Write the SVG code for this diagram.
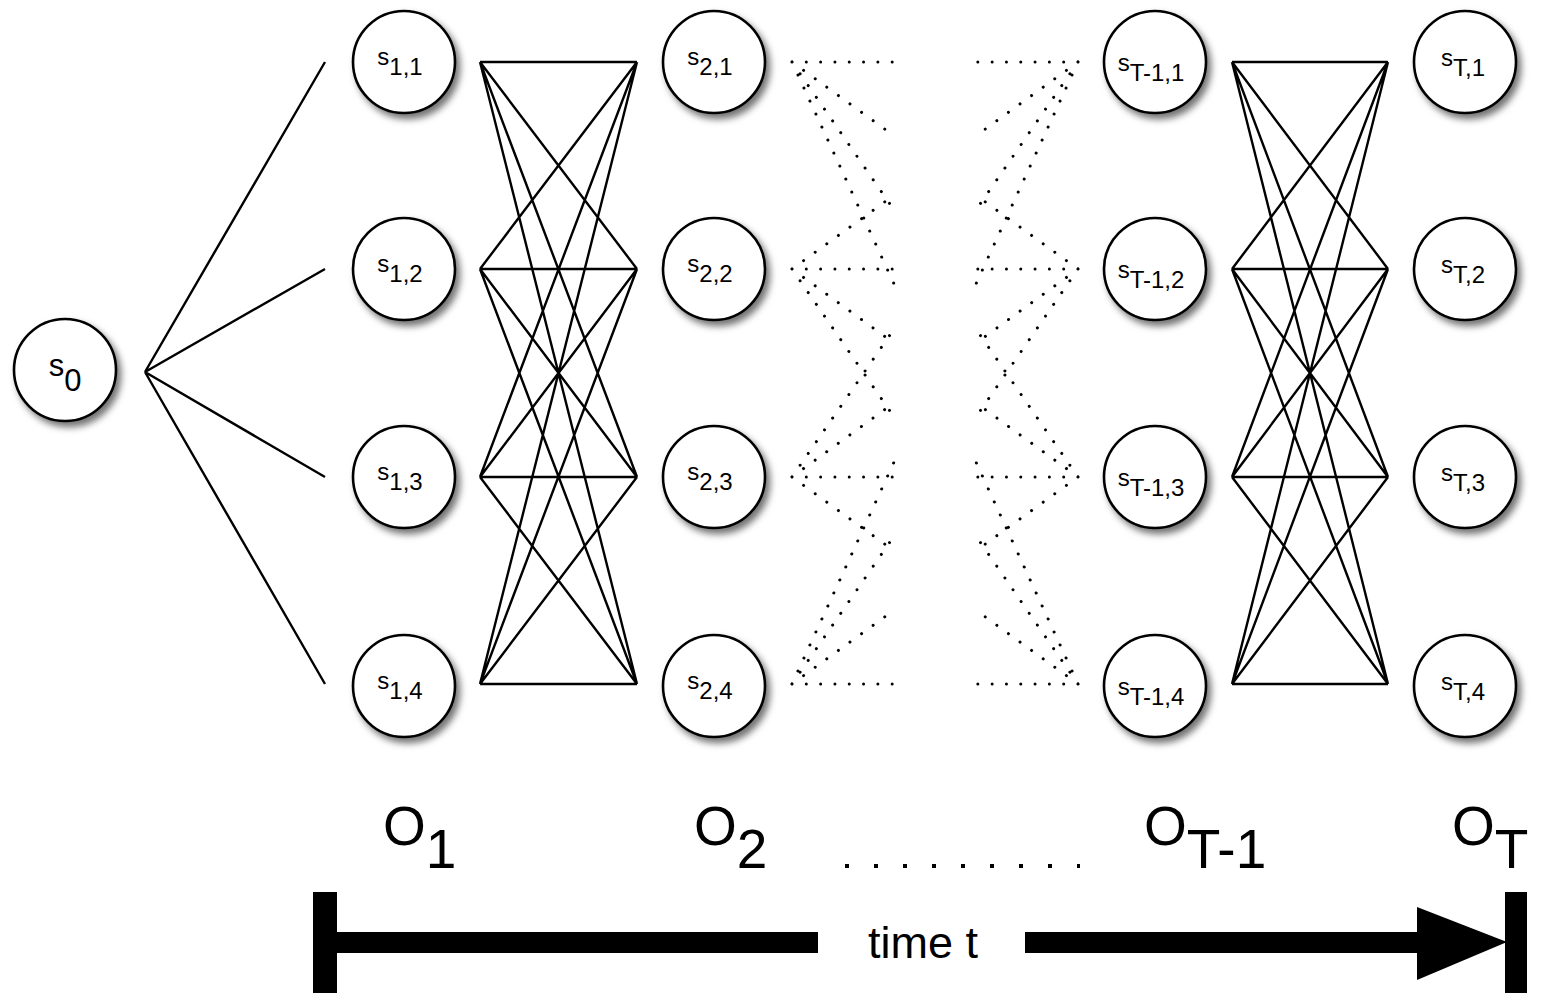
<svg xmlns="http://www.w3.org/2000/svg" width="1545" height="993" viewBox="0 0 1545 993">
  <defs>
    <filter id="shadow" x="-30%" y="-30%" width="170%" height="170%">
      <feDropShadow dx="4" dy="5" stdDeviation="3.5" flood-color="#000" flood-opacity="0.55"/>
    </filter>
    <style>
      .node circle { fill: #fff; stroke: #000; stroke-width: 2.6; filter: url(#shadow); }
      .lbl { font-family: "Liberation Sans", Arial, sans-serif; font-size: 24px; fill: #000; text-anchor: middle; }
      .lbl0 { font-family: "Liberation Sans", Arial, sans-serif; font-size: 31px; fill: #000; text-anchor: middle; }
      .solid { fill: none; stroke: #000; stroke-width: 2.4; }
      .dots { fill: none; stroke: #000; stroke-width: 3; stroke-linecap: round; stroke-dasharray: 0.01 14.3; }
      .obs { font-family: "Liberation Sans", Arial, sans-serif; font-size: 55px; fill: #000; }
      .axis { fill: #000; }
    </style>
  </defs>
  <rect width="1545" height="993" fill="#fff"/>

  <!-- transitions -->
  <g id="connectors">
    <!-- from the start state -->
    <path class="solid" d="M145,372 L325,62 M145,372 L325,269 M145,372 L325,477 M145,372 L325,684"/>
    <!-- step 1 to step 2: every state to every state -->
    <path class="solid" d="
      M480,62 L637,62 M480,62 L637,269 M480,62 L637,477 M480,62 L637,684
      M480,269 L637,62 M480,269 L637,269 M480,269 L637,477 M480,269 L637,684
      M480,477 L637,62 M480,477 L637,269 M480,477 L637,477 M480,477 L637,684
      M480,684 L637,62 M480,684 L637,269 M480,684 L637,477 M480,684 L637,684"/>
    <!-- step T-1 to step T -->
    <path class="solid" d="
      M1232,62 L1388,62 M1232,62 L1388,269 M1232,62 L1388,477 M1232,62 L1388,684
      M1232,269 L1388,62 M1232,269 L1388,269 M1232,269 L1388,477 M1232,269 L1388,684
      M1232,477 L1388,62 M1232,477 L1388,269 M1232,477 L1388,477 M1232,477 L1388,684
      M1232,684 L1388,62 M1232,684 L1388,269 M1232,684 L1388,477 M1232,684 L1388,684"/>
    <!-- elided steps: dotted stubs leaving step 2 -->
    <path class="dots" d="
      M792,62 L895,62 M792,62 L895,136.5 M792,62 L895,211.4 M792,62 L895,286
      M792,269 L895,194.5 M792,269 L895,269 M792,269 L895,343.9 M792,269 L895,418.4
      M792,477 L895,327.6 M792,477 L895,402.1 M792,477 L895,477 M792,477 L895,551.5
      M792,684 L895,460 M792,684 L895,534.6 M792,684 L895,609.5 M792,684 L895,684"/>
    <!-- elided steps: dotted stubs arriving at step T-1 -->
    <path class="dots" d="
      M1078,62 L975,62 M1078,62 L975,136.5 M1078,62 L975,211.4 M1078,62 L975,286
      M1078,269 L975,194.5 M1078,269 L975,269 M1078,269 L975,343.9 M1078,269 L975,418.4
      M1078,477 L975,327.6 M1078,477 L975,402.1 M1078,477 L975,477 M1078,477 L975,551.5
      M1078,684 L975,460 M1078,684 L975,534.6 M1078,684 L975,609.5 M1078,684 L975,684"/>
  </g>

  <!-- states -->
  <g id="s0" class="node"><circle cx="65" cy="370" r="51"/><text class="lbl0" x="65" y="376">s<tspan dy="15">0</tspan></text></g>

  <g id="s1_1" class="node"><circle cx="404" cy="62" r="51"/><text class="lbl" x="400" y="65">s<tspan dy="10">1,1</tspan></text></g>
  <g id="s1_2" class="node"><circle cx="404" cy="269" r="51"/><text class="lbl" x="400" y="272">s<tspan dy="10">1,2</tspan></text></g>
  <g id="s1_3" class="node"><circle cx="404" cy="477" r="51"/><text class="lbl" x="400" y="480">s<tspan dy="10">1,3</tspan></text></g>
  <g id="s1_4" class="node"><circle cx="404" cy="686" r="51"/><text class="lbl" x="400" y="689">s<tspan dy="10">1,4</tspan></text></g>

  <g id="s2_1" class="node"><circle cx="714" cy="62" r="51"/><text class="lbl" x="710" y="65">s<tspan dy="10">2,1</tspan></text></g>
  <g id="s2_2" class="node"><circle cx="714" cy="269" r="51"/><text class="lbl" x="710" y="272">s<tspan dy="10">2,2</tspan></text></g>
  <g id="s2_3" class="node"><circle cx="714" cy="477" r="51"/><text class="lbl" x="710" y="480">s<tspan dy="10">2,3</tspan></text></g>
  <g id="s2_4" class="node"><circle cx="714" cy="686" r="51"/><text class="lbl" x="710" y="689">s<tspan dy="10">2,4</tspan></text></g>

  <g id="sTm1_1" class="node"><circle cx="1155" cy="62" r="51"/><text class="lbl" x="1151" y="71">s<tspan dy="10">T-1,1</tspan></text></g>
  <g id="sTm1_2" class="node"><circle cx="1155" cy="269" r="51"/><text class="lbl" x="1151" y="278">s<tspan dy="10">T-1,2</tspan></text></g>
  <g id="sTm1_3" class="node"><circle cx="1155" cy="477" r="51"/><text class="lbl" x="1151" y="486">s<tspan dy="10">T-1,3</tspan></text></g>
  <g id="sTm1_4" class="node"><circle cx="1155" cy="686" r="51"/><text class="lbl" x="1151" y="695">s<tspan dy="10">T-1,4</tspan></text></g>

  <g id="sT_1" class="node"><circle cx="1465" cy="62" r="51"/><text class="lbl" x="1463" y="66">s<tspan dy="10">T,1</tspan></text></g>
  <g id="sT_2" class="node"><circle cx="1465" cy="269" r="51"/><text class="lbl" x="1463" y="273">s<tspan dy="10">T,2</tspan></text></g>
  <g id="sT_3" class="node"><circle cx="1465" cy="477" r="51"/><text class="lbl" x="1463" y="481">s<tspan dy="10">T,3</tspan></text></g>
  <g id="sT_4" class="node"><circle cx="1465" cy="686" r="51"/><text class="lbl" x="1463" y="690">s<tspan dy="10">T,4</tspan></text></g>

  <!-- observations -->
  <g id="observations">
    <text class="obs" x="383" y="845">O<tspan dy="23">1</tspan></text>
    <text class="obs" x="694" y="845">O<tspan dy="23">2</tspan></text>
    <line x1="845" y1="866" x2="1080" y2="866" stroke="#000" stroke-width="4" stroke-dasharray="4 25"/>
    <text class="obs" x="1144" y="845">O<tspan dy="23">T-1</tspan></text>
    <text class="obs" x="1452" y="845">O<tspan dy="23">T</tspan></text>
  </g>

  <!-- time axis -->
  <g id="time-axis">
    <rect class="axis" x="313" y="892" width="24" height="101"/>
    <rect class="axis" x="337" y="932" width="481" height="21"/>
    <text x="868" y="958" style="font-family:'Liberation Sans', Arial, sans-serif; font-size:45px; fill:#000">time t</text>
    <rect class="axis" x="1025" y="932" width="395" height="21"/>
    <polygon class="axis" points="1417,907 1507,942 1417,980"/>
    <rect class="axis" x="1505" y="892" width="22" height="101"/>
  </g>
</svg>
